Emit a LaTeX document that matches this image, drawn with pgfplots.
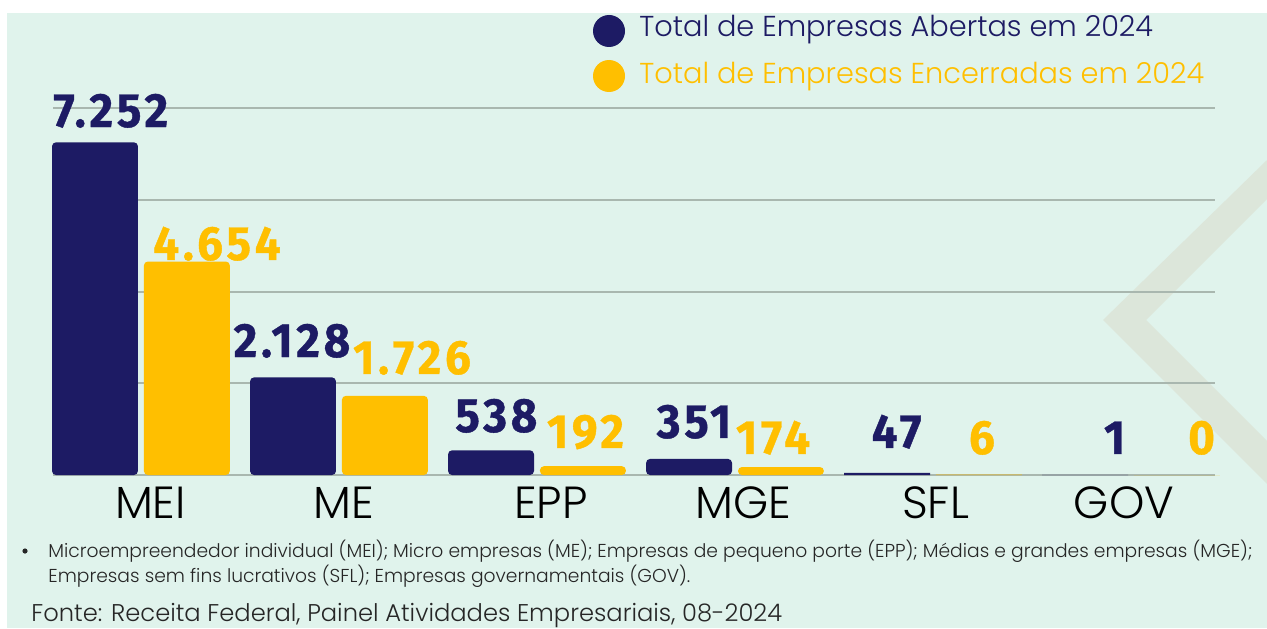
\documentclass[border=0pt]{standalone}
\usepackage{pgfplots}
\pgfplotsset{compat=1.18}
\usepackage{fontspec}
\setmainfont{Poppins}
\newfontfamily\lightfont{Poppins Light}
\newfontfamily\numfont{Fira Sans}[FakeStretch=0.95, LetterSpace=8, BoldFeatures={FakeBold=0.8}]
\definecolor{navy}{HTML}{1D1B64}
\definecolor{gold}{HTML}{FFBF00}
\definecolor{mint}{HTML}{E0F3EC}
\definecolor{gridc}{HTML}{A9B7AF}
\definecolor{chev}{HTML}{DCE6DA}
\tikzset{num/.style={anchor=base, inner sep=0pt, font=\numfont\bfseries\fontsize{24}{24}\selectfont}}
\begin{document}
\begin{tikzpicture}
\useasboundingbox (0,0) rectangle (633.5pt,314pt);
% background, 1 unit = 1 px of the reference
\begin{scope}[x=0.5pt,y=-0.5pt,yshift=314pt]
 \fill[white] (0,0) rectangle (1267,628);
 \fill[mint] (7,13) rectangle (1267,628);
 \fill[chev] (1267,160) -- (1103,320) -- (1267,484) -- (1267,441) -- (1146,320) -- (1267,199) -- cycle;
\end{scope}
\begin{axis}[
  at={(26.5pt,76.5pt)}, anchor=south west, scale only axis,
  width=581pt, height=183.5pt,
  xmin=-0.444, xmax=5.424, ymin=0, ymax=8000,
  axis line style={draw=none}, tick style={draw=none},
  ytick={2000,4000,6000,8000}, yticklabels={},
  ymajorgrids, major grid style={gridc, line width=1pt},
  extra y ticks={0}, extra y tick labels={},
  extra y tick style={grid style={color=gridc!80!black, line width=1.2pt}},
  xtick={0.048,1.023,2.071,3.043,4.013,4.965},
  xticklabels={MEI,ME,EPP,MGE,SFL,GOV},
  xticklabel style={font=\lightfont\fontsize{22.5}{22.5}\selectfont, anchor=base, yshift=-21.5pt, text=black, inner sep=0pt},
  clip=false,
]
% large bars with rounded tops
\addplot[ybar, bar width=0.434, bar shift=-0.232, fill=navy, draw=none, rounded corners=2pt]
  coordinates {(0,7252) (1,2128) (2,538) (3,351)};
\addplot[ybar, bar width=0.434, bar shift=0.232, fill=gold, draw=none, rounded corners=2pt]
  coordinates {(0,4654) (1,1726) (2,192) (3,174)};
% bars too thin to round
\addplot[ybar, bar width=0.434, bar shift=-0.232, fill=navy, draw=none]
  coordinates {(4,47) (5,1)};
\addplot[ybar, bar width=0.434, bar shift=0.232, fill=gold, draw=none]
  coordinates {(4,6) (5,0)};
% value labels
\node[num, text=navy] at (axis cs:-0.152,7586) {7.252};
\node[num, text=gold] at (axis cs:0.384,4687) {4.654};
\node[num, text=navy] at (axis cs:0.763,2572) {2.128};
\node[num, text=gold] at (axis cs:1.369,2202) {1.726};
\node[num, text=navy] at (axis cs:1.795,937) {538};
\node[num, text=gold] at (axis cs:2.245,589) {192};
\node[num, text=navy] at (axis cs:2.793,807) {351};
\node[num, text=gold] at (axis cs:3.192,458) {174};
\node[num, text=navy] at (axis cs:3.816,589) {47};
\node[num, text=gold] at (axis cs:4.247,458) {6};
\node[num, text=navy] at (axis cs:4.917,458) {1};
\node[num, text=gold] at (axis cs:5.356,458) {0};
\end{axis}
% legend and notes
\begin{scope}[x=0.5pt,y=-0.5pt,yshift=314pt]
 \fill[navy] (609,31) circle[radius=8pt];
 \fill[gold] (609,76) circle[radius=8pt];
 \node[anchor=base west, inner sep=0pt, text=navy, font=\lightfont\fontsize{14.4}{14.4}\selectfont] at (639,37) {Total de Empresas Abertas em 2024};
 \node[anchor=base west, inner sep=0pt, text=gold, font=\lightfont\fontsize{14.4}{14.4}\selectfont] at (639,83) {Total de Empresas Encerradas em 2024};
 \fill[black!85] (25,551) circle[radius=1.3pt];
 \node[anchor=base west, inner sep=0pt, text=black!85, font=\lightfont\fontsize{9.35}{9.35}\selectfont] at (48,557) {Microempreendedor individual (MEI); Micro empresas (ME); Empresas de pequeno porte (EPP); Médias e grandes empresas (MGE);};
 \node[anchor=base west, inner sep=0pt, text=black!85, font=\lightfont\fontsize{9.35}{9.35}\selectfont] at (48,582) {Empresas sem fins lucrativos (SFL); Empresas governamentais (GOV).};
 \node[anchor=base west, inner sep=0pt, text=black!85, font=\lightfont\fontsize{12.1}{12.1}\selectfont] at (31,621) {Fonte: Receita Federal, Painel Atividades Empresariais, 08-2024};
\end{scope}
\end{tikzpicture}
\end{document}
